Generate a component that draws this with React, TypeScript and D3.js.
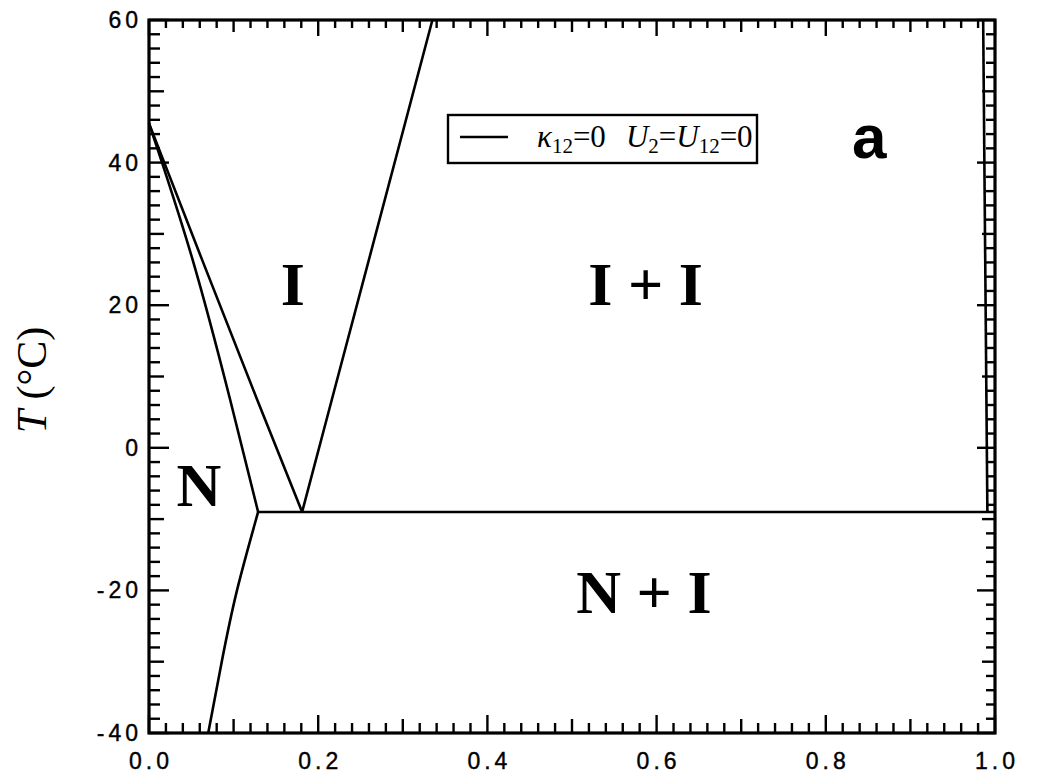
import React, { useRef, useEffect } from "react";
import * as d3 from "d3";

const xTickValues = [0, 0.2, 0.4, 0.6, 0.8, 1.0];
const xTickLabels = ["0.0", "0.2", "0.4", "0.6", "0.8", "1.0"];
const yTickValues = [-40, -20, 0, 20, 40, 60];
const yTickLabels = ["-40", "-20", "0", "20", "40", "60"];

// phase boundaries: [composition, T (°C)]
const nematicUpper: [number, number][] = [[0, 45.5], [0.051, 26.6], [0.096, 6.7], [0.129, -9]];
const isotropicUpper: [number, number][] = [[0, 45.5], [0.062, 26.6], [0.128, 6.7], [0.181, -9]];
const isoIsoLeft: [number, number][] = [[0.181, -9], [0.216, 6.7], [0.335, 60]];
const isoIsoRight: [number, number][] = [[0.986, 60], [0.991, -9]];
const nematicLower: [number, number][] = [[0.129, -9], [0.104, -20], [0.086, -30], [0.07, -40]];
const threePhaseLine: [number, number][] = [[0.129, -9], [1.0, -9]];

const regionNames = ["I", "I + I", "N", "N + I"];
const panelLabel = "a";

const width = 1049;
const height = 780;
const margin = { top: 20, right: 54, bottom: 47, left: 149 };

const App = () => {
  const svgRef = useRef<SVGSVGElement>(null);

  useEffect(() => {
    const svg = d3.select(svgRef.current);
    svg.selectAll("*").remove();

    const x = d3.scaleLinear().domain([0, 1]).range([margin.left, width - margin.right]);
    const y = d3.scaleLinear().domain([-40, 60]).range([height - margin.bottom, margin.top]);

    const minorX = d3.range(0, 1.0001, 0.02);
    const minorY = d3.range(-40, 60.001, 2);
    const near = (a: number, b: number) => Math.abs(a / b - Math.round(a / b)) < 1e-6;

    const xLen = (v: number, base: number) => (near(v, 0.2) ? base + 8 : near(v, 0.1) ? base + 4 : base);
    const yLen = (v: number, base: number) => (near(v, 20) ? base + 9 : near(v, 10) ? base + 4 : base);

    const ticks = svg.append("g").attr("stroke", "#000").attr("stroke-width", 2.4);
    // bottom & top ticks (pointing inward)
    minorX.forEach((v) => {
      ticks.append("line").attr("x1", x(v)).attr("x2", x(v))
        .attr("y1", y(-40)).attr("y2", y(-40) - xLen(v, 10));
      ticks.append("line").attr("x1", x(v)).attr("x2", x(v))
        .attr("y1", y(60)).attr("y2", y(60) + xLen(v, 8));
    });
    // left & right ticks
    minorY.forEach((v) => {
      ticks.append("line").attr("x1", x(0)).attr("x2", x(0) + yLen(v, 11))
        .attr("y1", y(v)).attr("y2", y(v));
      ticks.append("line").attr("x1", x(1)).attr("x2", x(1) - yLen(v, 9))
        .attr("y1", y(v)).attr("y2", y(v));
    });

    // frame
    svg.append("rect")
      .attr("x", x(0)).attr("y", y(60))
      .attr("width", x(1) - x(0)).attr("height", y(-40) - y(60))
      .attr("fill", "none").attr("stroke", "#000").attr("stroke-width", 3.2);

    // tick labels
    const tickFont = "'Liberation Sans', Arial, sans-serif";
    svg.append("g").selectAll("text").data(xTickValues).enter().append("text")
      .attr("x", (d) => x(d) + 2)
      .attr("y", 769)
      .attr("text-anchor", "middle")
      .attr("font-family", tickFont).attr("font-size", 23)
      .attr("letter-spacing", 4)
      .attr("stroke", "#000").attr("stroke-width", 0.4)
      .text((d, i) => xTickLabels[i]);
    svg.append("g").selectAll("text").data(yTickValues).enter().append("text")
      .attr("x", x(0) - 7)
      .attr("y", (d) => y(d) + 8)
      .attr("text-anchor", "end")
      .attr("font-family", tickFont).attr("font-size", 23)
      .attr("letter-spacing", 4)
      .attr("stroke", "#000").attr("stroke-width", 0.4)
      .text((d, i) => yTickLabels[i]);

    // axis title
    const title = svg.append("text")
      .attr("transform", "translate(46,380) rotate(-90)")
      .attr("text-anchor", "middle")
      .attr("font-family", "'Liberation Serif', 'Times New Roman', serif")
      .attr("font-size", 42);
    title.append("tspan").attr("font-style", "italic").text("T");
    title.append("tspan").text(" (°C)");

    // boundaries
    const lineGen = d3.line<[number, number]>().x((d) => x(d[0])).y((d) => y(d[1]));
    const curved = d3.line<[number, number]>().x((d) => x(d[0])).y((d) => y(d[1])).curve(d3.curveNatural);
    const paths = svg.append("g").attr("fill", "none").attr("stroke", "#000").attr("stroke-width", 2.6);
    paths.append("path").attr("d", curved(nematicUpper));
    paths.append("path").attr("d", lineGen(isotropicUpper));
    paths.append("path").attr("d", lineGen(isoIsoLeft));
    paths.append("path").attr("d", lineGen(isoIsoRight));
    paths.append("path").attr("d", curved(nematicLower));
    paths.append("path").attr("d", lineGen(threePhaseLine));

    // region labels
    const serif = "'Liberation Serif', 'Times New Roman', serif";
    const regionAnchors: [number, number][] = [[0.17, 20], [0.587, 20], [0.059, -8.2], [0.585, -23.2]];
    svg.append("g").selectAll("text").data(regionNames).enter().append("text")
      .attr("x", (d, i) => x(regionAnchors[i][0]))
      .attr("y", (d, i) => y(regionAnchors[i][1]))
      .attr("text-anchor", "middle")
      .attr("font-family", serif).attr("font-weight", "bold").attr("font-size", 62)
      .attr("xml:space", "preserve")
      .text((d) => d);

    svg.append("text")
      .attr("x", x(0.831)).attr("y", y(40.6))
      .attr("font-family", "'Liberation Sans', Arial, sans-serif")
      .attr("font-weight", "bold").attr("font-size", 62)
      .text(panelLabel);

    // legend
    const lg = svg.append("g");
    lg.append("rect").attr("x", 448).attr("y", 115).attr("width", 309).attr("height", 48)
      .attr("fill", "#fff").attr("stroke", "#000").attr("stroke-width", 2.4);
    lg.append("line").attr("x1", 460).attr("x2", 508).attr("y1", 137).attr("y2", 137)
      .attr("stroke", "#000").attr("stroke-width", 2.4);
    const lt = lg.append("text").attr("x", 537).attr("y", 147)
      .attr("font-family", serif).attr("font-size", 31);
    lt.append("tspan").attr("font-style", "italic").text("κ");
    lt.append("tspan").attr("font-size", 21).attr("dy", 6).text("12");
    lt.append("tspan").attr("dy", -6).text("=0");
    lt.append("tspan").attr("font-style", "italic").attr("dx", 20).text("U");
    lt.append("tspan").attr("font-size", 21).attr("dy", 6).text("2");
    lt.append("tspan").attr("dy", -6).text("=");
    lt.append("tspan").attr("font-style", "italic").text("U");
    lt.append("tspan").attr("font-size", 21).attr("dy", 6).text("12");
    lt.append("tspan").attr("dy", -6).text("=0");
  }, []);

  return (
    <div style={{ position: "absolute", left: 0, top: 0 }}>
      <svg ref={svgRef} width={width} height={height} style={{ display: "block", background: "#fff" }} />
    </div>
  );
};

export default App;
